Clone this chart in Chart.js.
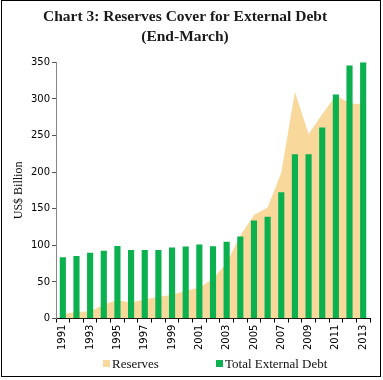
<!DOCTYPE html>
<html>
<head>
<meta charset="utf-8">
<script src="https://cdn.jsdelivr.net/npm/chart.js@4.4.1/dist/chart.umd.min.js"></script>
<style>
  html, body { margin: 0; padding: 0; background: #fff; }
  #wrap { position: relative; width: 383px; height: 380px; }
  #frame { position: absolute; left: 1px; top: 0px; width: 378px; height: 375px; border: 1px solid #000; pointer-events: none; }
  canvas { position: absolute; left: 0; top: 0; }
  #legend { position: absolute; top: 356px; left: 0; width: 383px; height: 16px; font-family: "Liberation Serif", serif; font-size: 13px; color: #111; }
  .item { position: absolute; top: 0; white-space: nowrap; line-height: 16px; }
  .sw { display: inline-block; width: 7px; height: 7px; margin-right: 2px; vertical-align: 1px; }
</style>
</head>
<body>
<div id="wrap">
  <canvas id="c" width="383" height="380"></canvas>
  <div id="legend">
    <span class="item" style="left:103px"><span class="sw" style="background:#F9D89C"></span>Reserves</span>
    <span class="item" style="left:216px"><span class="sw" style="background:#0BB04F"></span>Total External Debt</span>
  </div>
  <div id="frame"></div>
</div>
<script>
const years = ['1991','1992','1993','1994','1995','1996','1997','1998','1999','2000','2001','2002','2003','2004','2005','2006','2007','2008','2009','2010','2011','2012','2013'];
const reserves = [5.8, 9.2, 9.8, 19.3, 25.2, 21.7, 26.4, 29.4, 32.5, 38.0, 42.3, 54.1, 76.1, 113.0, 141.5, 151.6, 199.2, 309.7, 252.0, 279.1, 304.8, 294.4, 292.0];
const externalDebt = [83.8, 85.3, 90.0, 92.7, 99.0, 93.7, 93.5, 93.5, 96.9, 98.3, 101.3, 98.8, 104.9, 112.0, 134.0, 139.1, 172.4, 224.4, 224.5, 260.9, 305.9, 345.5, 350.0];
const yTicks = [0, 50, 100, 150, 200, 250, 300, 350];

const tickFont = { family: 'DejaVu Sans', size: 10 };

new Chart(document.getElementById('c'), {
  data: {
    labels: years,
    datasets: [
      {
        type: 'line',
        label: 'Reserves',
        data: reserves,
        fill: 'origin',
        backgroundColor: '#F9D89C',
        borderWidth: 0,
        borderColor: 'rgba(0,0,0,0)',
        pointRadius: 0,
        tension: 0,
        order: 2
      },
      {
        type: 'bar',
        label: 'Total External Debt',
        data: externalDebt,
        backgroundColor: '#0BB04F',
        borderWidth: 0,
        barPercentage: 0.45,
        categoryPercentage: 1.0,
        order: 1
      }
    ]
  },
  options: {
    responsive: false,
    animation: false,
    devicePixelRatio: 1,
    layout: { padding: { left: 0, right: 13, top: 0, bottom: 28 } },
    plugins: {
      legend: { display: false },
      tooltip: { enabled: false },
      title: {
        display: true,
        text: ['Chart 3: Reserves Cover for External Debt', '(End-March)'],
        color: '#1a1a1a',
        font: { family: 'Liberation Serif', size: 15.5, weight: 'bold', lineHeight: 1.3 },
        padding: { top: 7, bottom: 15 }
      }
    },
    scales: {
      x: {
        type: 'category',
        offset: true,
        grid: { display: true, offset: true, drawOnChartArea: false, drawTicks: true, tickLength: 4, color: '#000' },
        border: { display: true, color: '#000', width: 1 },
        ticks: {
          autoSkip: false,
          minRotation: 90,
          maxRotation: 90,
          padding: 2,
          color: '#000',
          font: tickFont,
          callback: function (v, i) { return i % 2 === 0 ? years[i] : ''; }
        }
      },
      y: {
        min: 0,
        max: 350,
        afterBuildTicks: function (scale) { scale.ticks = yTicks.map(v => ({ value: v })); },
        afterFit: function (scale) { scale.width = 56; },
        grid: { display: true, drawOnChartArea: false, drawTicks: true, tickLength: 4, color: '#555' },
        border: { display: true, color: '#888', width: 1 },
        ticks: { padding: 2, color: '#000', font: tickFont },
        title: {
          display: true,
          text: 'US$ Billion',
          color: '#111',
          font: { family: 'Liberation Serif', size: 12, lineHeight: 1.2 },
          padding: { top: 12, bottom: 0 }
        }
      }
    }
  }
});
</script>
</body>
</html>
